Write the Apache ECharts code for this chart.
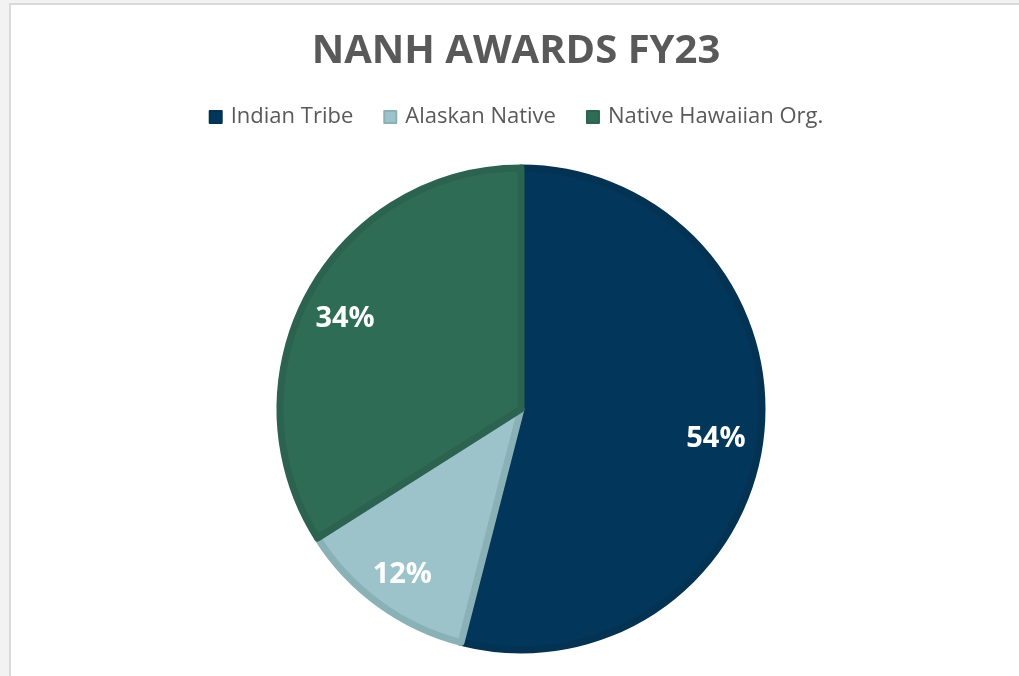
<!DOCTYPE html>
<html>
<head>
<meta charset="utf-8">
<script src="https://cdn.jsdelivr.net/npm/echarts@6/dist/echarts.min.js"></script>
<style>
  html, body { margin: 0; padding: 0; background: #f2f2f2; }
  #chart {
    position: absolute; left: 9px; top: 3px;
    width: 1010px; height: 673px;
    background: #fff;
    border-left: 2px solid #d9d9d9; border-top: 2px solid #d9d9d9;
  }
</style>
</head>
<body>
<div id="chart"></div>
<script>
const categories = ['Indian Tribe', 'Alaskan Native', 'Native Hawaiian Org.'];
const shares = [54, 12, 34];
const fills = ['#02365a', '#9dc3ca', '#2f6c55'];
const edges = ['#043252', '#8ab2b6', '#2b6350'];

(function () {
  const chart = echarts.init(document.getElementById('chart'));
  const font = '"Open Sans", "Noto Sans", sans-serif';
  const center = [510, 404];

  const slices = categories.map((name, i) => ({
    name: name,
    value: shares[i],
    itemStyle: { color: fills[i], borderColor: edges[i] }
  }));

  chart.setOption({
    animation: false,
    title: {
      text: 'NANH AWARDS FY23',
      left: 'center',
      top: 22,
      textStyle: { fontFamily: font, fontWeight: 'bold', fontSize: 40, color: '#595959' }
    },
    legend: {
      data: categories,
      top: 96,
      left: 'center',
      icon: 'rect',
      itemWidth: 12,
      itemHeight: 12,
      itemGap: 30,
      textStyle: { fontFamily: font, fontSize: 22, color: '#595959', padding: [0, 0, 0, 4] }
    },
    series: [
      {
        type: 'pie',
        center: center,
        radius: 241,
        startAngle: 90,
        data: slices,
        itemStyle: { borderWidth: 7 },
        label: { show: false },
        labelLine: { show: false },
        emphasis: { disabled: true }
      },
      {
        type: 'pie',
        center: center,
        radius: [146, 245],
        startAngle: 90,
        silent: true,
        data: categories.map((name, i) => ({ name: name, value: shares[i] })),
        itemStyle: { color: 'rgba(0,0,0,0)', borderWidth: 0 },
        label: {
          show: true,
          position: 'inside',
          formatter: '{c}%',
          fontFamily: font,
          fontWeight: 'bold',
          fontSize: 29,
          color: '#fff',
          offset: [-2, 5]
        },
        labelLine: { show: false },
        emphasis: { disabled: true }
      }
    ]
  });
})();
</script>
</body>
</html>
